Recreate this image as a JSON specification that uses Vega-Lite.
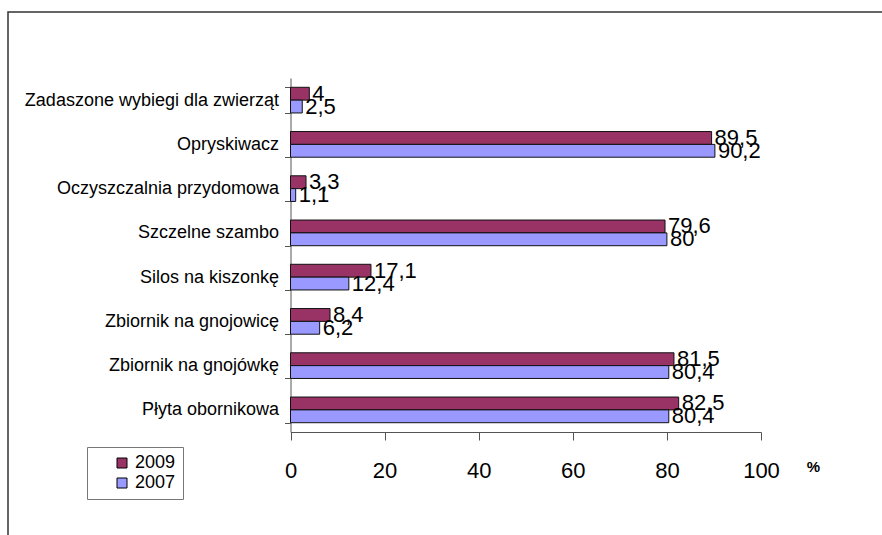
{
  "$schema": "https://vega.github.io/schema/vega-lite/v6.json",
  "width": 880,
  "height": 530,
  "autosize": {"type": "none"},
  "padding": {"left": 8, "top": 12, "right": 0, "bottom": 0},
  "background": "white",
  "config": {
    "view": {"stroke": "#333", "strokeWidth": 1.5},
    "locale": {"number": {"decimal": ",", "thousands": " ", "grouping": [3], "currency": ["", " zł"]}},
    "font": "Liberation Sans"
  },
  "data": {
    "values": [
      {"cat": "Zadaszone wybiegi dla zwierząt", "year": "2009", "value": 4},
      {"cat": "Zadaszone wybiegi dla zwierząt", "year": "2007", "value": 2.5},
      {"cat": "Opryskiwacz", "year": "2009", "value": 89.5},
      {"cat": "Opryskiwacz", "year": "2007", "value": 90.2},
      {"cat": "Oczyszczalnia przydomowa", "year": "2009", "value": 3.3},
      {"cat": "Oczyszczalnia przydomowa", "year": "2007", "value": 1.1},
      {"cat": "Szczelne szambo", "year": "2009", "value": 79.6},
      {"cat": "Szczelne szambo", "year": "2007", "value": 80},
      {"cat": "Silos na kiszonkę", "year": "2009", "value": 17.1},
      {"cat": "Silos na kiszonkę", "year": "2007", "value": 12.4},
      {"cat": "Zbiornik na gnojowicę", "year": "2009", "value": 8.4},
      {"cat": "Zbiornik na gnojowicę", "year": "2007", "value": 6.2},
      {"cat": "Zbiornik na gnojówkę", "year": "2009", "value": 81.5},
      {"cat": "Zbiornik na gnojówkę", "year": "2007", "value": 80.4},
      {"cat": "Płyta obornikowa", "year": "2009", "value": 82.5},
      {"cat": "Płyta obornikowa", "year": "2007", "value": 80.4}
    ]
  },
  "encoding": {
    "y": {
      "field": "cat",
      "type": "nominal",
      "sort": ["Zadaszone wybiegi dla zwierząt", "Opryskiwacz", "Oczyszczalnia przydomowa", "Szczelne szambo", "Silos na kiszonkę", "Zbiornik na gnojowicę", "Zbiornik na gnojówkę", "Płyta obornikowa"],
      "scale": {"range": [66, 420], "paddingInner": 0.42, "paddingOuter": 0.21},
      "axis": {
        "title": null,
        "tickBand": "extent",
        "tickSize": 6,
        "labelFont": "Liberation Sans",
        "labelFontSize": 18,
        "labelLimit": 0,
        "labelPadding": 6,
        "labelColor": "#000",
        "offset": -282.5,
        "domainColor": "#555",
        "tickColor": "#555"
      }
    },
    "yOffset": {"field": "year", "type": "nominal", "sort": ["2009", "2007"]},
    "x": {
      "field": "value",
      "type": "quantitative",
      "scale": {"domain": [0, 100], "range": [282.5, 753], "nice": false},
      "axis": {
        "values": [0, 20, 40, 60, 80, 100],
        "grid": false,
        "tickSize": 8,
        "tickColor": "#555",
        "domainColor": "#555",
        "labelFont": "Liberation Sans",
        "labelFontSize": 22,
        "labelColor": "#000",
        "labelPadding": 20,
        "labelFlush": false,
        "offset": -110,
        "title": "%",
        "titleX": 805,
        "titleY": 34,
        "titleFontSize": 15,
        "titleBaseline": "middle",
        "titleAlign": "center",
        "titleColor": "#000"
      }
    }
  },
  "layer": [
    {
      "mark": {"type": "bar", "stroke": "#111", "strokeWidth": 1},
      "encoding": {
        "color": {
          "field": "year",
          "type": "nominal",
          "scale": {"domain": ["2009", "2007"], "range": ["#993366", "#9999FF"]},
          "legend": {
            "orient": "none",
            "legendX": 79,
            "legendY": 435,
            "title": null,
            "strokeColor": "#777",
            "fillColor": "white",
            "padding": 7,
            "symbolType": "square",
            "symbolSize": 100,
            "symbolStrokeColor": "#000",
            "symbolStrokeWidth": 1,
            "symbolOffset": 19,
            "labelFont": "Liberation Sans",
            "labelFontSize": 18,
            "labelColor": "#000",
            "labelOffset": 4,
            "rowPadding": 2
          }
        }
      }
    },
    {
      "mark": {"type": "text", "align": "left", "baseline": "middle", "dx": 3, "fontSize": 22, "font": "Liberation Sans", "color": "#000"},
      "encoding": {"text": {"field": "value", "type": "quantitative", "format": ".3~r"}}
    }
  ]
}
